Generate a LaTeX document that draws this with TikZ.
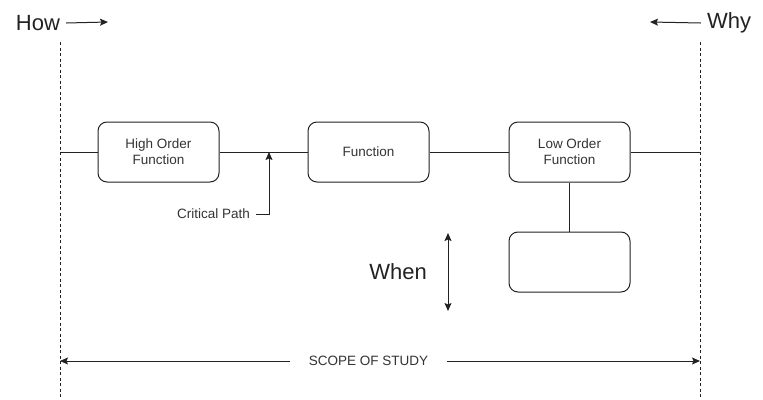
\documentclass[tikz,border=0pt]{standalone}
\usepackage{fontspec}
\setmainfont{Liberation Sans}
\usetikzlibrary{arrows.meta}
\definecolor{ink}{HTML}{222222}
\definecolor{txt}{HTML}{333333}
\tikzset{
  fbox/.style={draw=ink, line width=1pt, rounded corners=9pt, minimum width=121pt, minimum height=60pt, align=center, text=txt, font=\fontsize{13.5}{16}\selectfont, inner sep=0pt},
  conn/.style={draw=ink, line width=1pt},
  tip/.tip={Stealth[length=8pt,width=7pt,inset=1.5pt]},
  arr/.style={conn, -tip},
  darr/.style={conn, tip-tip},
  bound/.style={draw=ink, line width=0.6pt, dash pattern=on 3pt off 2.5pt},
  big/.style={font=\fontsize{22}{26}\selectfont, text=ink, inner sep=0pt},
  small/.style={font=\fontsize{13.5}{16}\selectfont, text=txt, inner sep=0pt}
}
\begin{document}
\begin{tikzpicture}[x=1pt,y=-1pt]
\useasboundingbox (0,0) rectangle (763,399);
% boundaries
\coordinate (lt) at (60,42); \coordinate (lb) at (60,399);
\coordinate (rt) at (700,42); \coordinate (rb) at (700,399);
\draw[bound] (lt) -- (lb);
\draw[bound] (rt) -- (rb);
% how / why
\node[big, anchor=center] (how) at (38,23) {How};
\coordinate (howE) at (108,22);
\draw[arr] ([xshift=6pt]how.east) -- (howE);
\node[big, anchor=center] (why) at (729,23) {Why};
\coordinate (whyE) at (650,22);
\draw[arr] ([xshift=-6pt]why.west) -- (whyE);
% boxes
\node[fbox] (hof) at (158.5,152) {High Order\\Function};
\node[fbox] (fn) at (368.5,152) {Function};
\node[fbox] (lof) at (569.5,152) {Low Order\\Function};
\node[fbox] (sub) at (569.5,262) {};
\coordinate (ml) at (60,152); \coordinate (mr) at (700,152);
\draw[conn] (ml) -- (hof) -- (fn) -- (lof) -- (mr);
\draw[conn] (lof) -- (sub);
% critical path
\node[small, anchor=east] (cp) at (250,214) {Critical Path};
\coordinate (cpT) at (269,152);
\draw[arr] ([xshift=6pt]cp.east) -| (cpT);
% when
\node[big] (when) at (398,272) {When};
\coordinate (wt) at (448,233); \coordinate (wb) at (448,311);
\draw[darr] (wt) -- (wb);
% scope
\coordinate (sl) at (60,361); \coordinate (sr) at (700,361);
\draw[darr] (sl) -- (sr);
\node[small, fill=white, inner xsep=19pt, inner ysep=3pt] (scope) at (368.5,361) {SCOPE OF STUDY};
\end{tikzpicture}
\end{document}
